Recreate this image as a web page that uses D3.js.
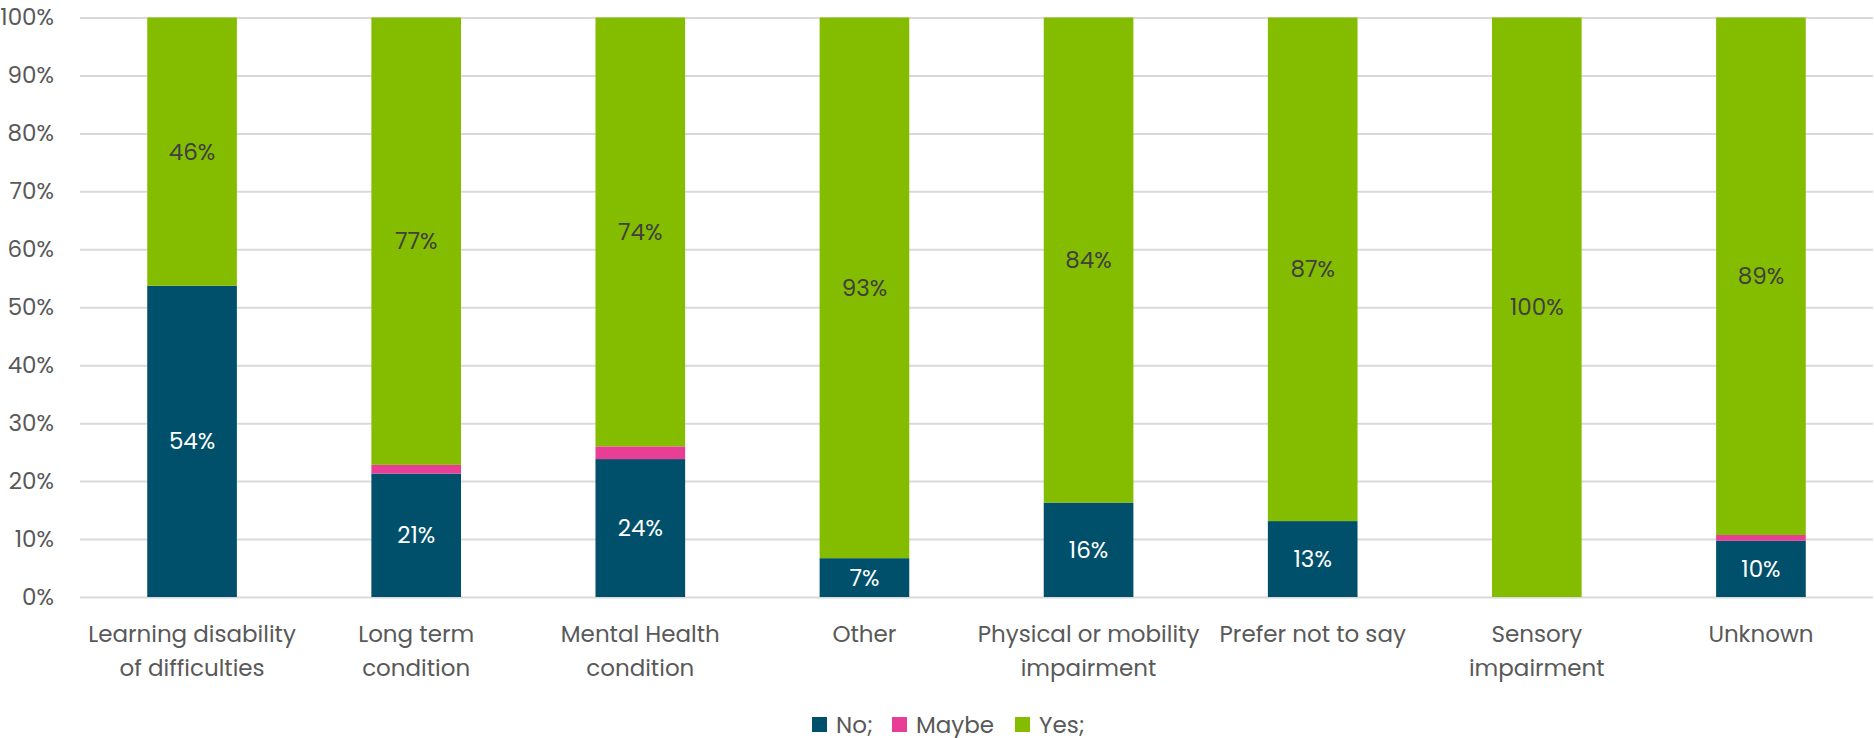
<!DOCTYPE html>
<html>
<head>
<meta charset="utf-8">
<script src="https://cdn.jsdelivr.net/npm/d3@7"></script>
<style>
    body { margin: 0; background: #fff; }
    text { font-family: "Poppins", "Open Sans", sans-serif; }
</style>
</head>
<body>
<svg width="1874" height="738"></svg>
<script>
// Categories, with the line breaks used in the axis labels.
var categories = [
    "Learning disability|of difficulties",
    "Long term|condition",
    "Mental Health|condition",
    "Other",
    "Physical or mobility|impairment",
    "Prefer not to say",
    "Sensory|impairment",
    "Unknown"
];

var seriesNames = ["No;", "Maybe", "Yes;"];
var seriesColors = ["#00506b", "#e83e96", "#84bd00"];
var labelColors = ["#ffffff", null, "#404040"];

// Shares in percent.
var noValues = [53.7, 21.3, 23.8, 6.7, 16.3, 13.1, 0, 9.7];
var maybeValues = [0, 1.5, 2.2, 0, 0, 0, 0, 1.0];
var yesValues = [46.3, 77.2, 74.0, 93.3, 83.7, 86.9, 100, 89.3];

var yTicks = [0, 10, 20, 30, 40, 50, 60, 70, 80, 90, 100];

var FONT = 23;

var svg = d3.select("svg");

var x = d3.scaleBand()
    .domain(categories)
    .range([80, 1873])
    .paddingInner(0.6)
    .paddingOuter(0.3);

var y = d3.scaleLinear()
    .domain([0, 100])
    .range([597, 17.5]);

// Gridlines and y labels.
var yAxis = d3.axisLeft(y)
    .tickValues(yTicks)
    .tickSize(-(1873 - 80))
    .tickPadding(26)
    .tickFormat(function(d) { return d + "%"; });

var gy = svg.append("g")
    .attr("transform", "translate(80,0)")
    .call(yAxis);
gy.select(".domain").remove();
gy.selectAll("line").attr("stroke", "#d9d9d9").attr("stroke-width", 2);
gy.selectAll("text")
    .attr("fill", "#595959")
    .style("font-size", FONT + "px")
    .style("font-family", "'Poppins', 'Open Sans', sans-serif");

// Stacked data.
var rows = categories.map(function(c, i) {
    return { cat: c, "No;": noValues[i], "Maybe": maybeValues[i], "Yes;": yesValues[i] };
});
var stacked = d3.stack().keys(seriesNames)(rows);

var layers = svg.append("g")
    .selectAll("g")
    .data(stacked)
    .join("g")
    .attr("fill", function(d, i) { return seriesColors[i]; });

layers.selectAll("rect")
    .data(function(d) { return d; })
    .join("rect")
    .attr("x", function(d) { return x(d.data.cat); })
    .attr("width", x.bandwidth())
    .attr("y", function(d) { return y(d[1]); })
    .attr("height", function(d) { return y(d[0]) - y(d[1]); });

// Data labels for No and Yes.
stacked.forEach(function(layer, si) {
    if (!labelColors[si]) {
        return;
    }
    svg.append("g")
        .selectAll("text")
        .data(layer.filter(function(d) { return d[1] - d[0] > 0; }))
        .join("text")
        .attr("x", function(d) { return x(d.data.cat) + x.bandwidth() / 2; })
        .attr("y", function(d) { return (y(d[0]) + y(d[1])) / 2; })
        .attr("dy", "0.35em")
        .attr("text-anchor", "middle")
        .attr("fill", labelColors[si])
        .style("font-size", FONT + "px")
        .text(function(d) { return Math.round(d[1] - d[0]) + "%"; });
});

// Category labels.
var xl = svg.append("g")
    .selectAll("text")
    .data(categories)
    .join("text")
    .attr("x", function(d) { return x(d) + x.bandwidth() / 2; })
    .attr("y", 642)
    .attr("text-anchor", "middle")
    .attr("fill", "#595959")
    .style("font-size", FONT + "px");

xl.selectAll("tspan")
    .data(function(d) { return d.split("|"); })
    .join("tspan")
    .attr("x", function() { return d3.select(this.parentNode).attr("x"); })
    .attr("dy", function(d, i) { return i == 0 ? 0 : 34; })
    .text(function(d) { return d; });

// Legend.
var legendX = [812, 892, 1015];
var legend = svg.append("g")
    .selectAll("g")
    .data(seriesNames)
    .join("g")
    .attr("transform", function(d, i) { return "translate(" + legendX[i] + ",717)"; });

legend.append("rect")
    .attr("width", 15)
    .attr("height", 15)
    .attr("fill", function(d, i) { return seriesColors[i]; });

legend.append("text")
    .attr("x", 24)
    .attr("y", 8)
    .attr("dy", "0.35em")
    .attr("fill", "#595959")
    .style("font-size", FONT + "px")
    .text(function(d) { return d; });
</script>
</body>
</html>
